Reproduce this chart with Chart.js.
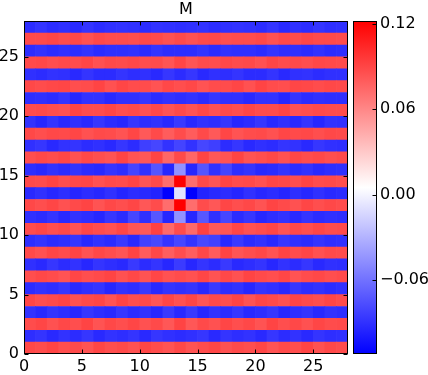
<!DOCTYPE html>
<html>
<head>
<meta charset="utf-8">
<script src="https://cdn.jsdelivr.net/npm/chart.js@4.4.1/dist/chart.umd.min.js"></script>
<style>
  html, body { margin: 0; padding: 0; background: #fff; }
  #wrap { position: relative; width: 428px; height: 375px; }
  #heat { position: absolute; left: 0; top: 0; }
  #cbar { position: absolute; left: 340px; top: 0; }
</style>
</head>
<body>
<div id="wrap">
  <canvas id="heat" width="350" height="375"></canvas>
  <canvas id="cbar" width="88" height="375"></canvas>
</div>
<script>
// columns (x) and rows (y) of the matrix
const cols = [0, 1, 2, 3, 4, 5, 6, 7, 8, 9, 10, 11, 12, 13, 14, 15, 16, 17, 18, 19, 20, 21, 22, 23, 24, 25, 26, 27];
const xTicks = [0, 5, 10, 15, 20, 25];
const yTicks = [0, 5, 10, 15, 20, 25];
const cbarTicks = [-0.06, 0.00, 0.06, 0.12];
const vmin = -0.112;
const vmax = 0.122;

// values of M, one array per row, row 0 at the bottom
const row00 = [0.089, 0.087, 0.091, 0.086, 0.088, 0.084, 0.090, 0.086, 0.088, 0.085, 0.090, 0.087, 0.084, 0.089, 0.084, 0.087, 0.090, 0.085, 0.088, 0.086, 0.090, 0.084, 0.088, 0.086, 0.091, 0.085, 0.089, 0.087];
const row01 = [-0.091, -0.088, -0.093, -0.089, -0.092, -0.087, -0.093, -0.089, -0.091, -0.088, -0.093, -0.087, -0.090, -0.092, -0.090, -0.087, -0.093, -0.088, -0.091, -0.089, -0.093, -0.087, -0.092, -0.089, -0.093, -0.088, -0.091, -0.090];
const row02 = [0.087, 0.090, 0.085, 0.089, 0.086, 0.091, 0.084, 0.089, 0.086, 0.090, 0.085, 0.088, 0.082, 0.091, 0.082, 0.088, 0.085, 0.090, 0.086, 0.089, 0.084, 0.091, 0.086, 0.089, 0.085, 0.090, 0.087, 0.088];
const row03 = [-0.089, -0.093, -0.088, -0.091, -0.094, -0.087, -0.091, -0.093, -0.087, -0.092, -0.089, -0.094, -0.086, -0.093, -0.086, -0.094, -0.089, -0.092, -0.087, -0.093, -0.091, -0.087, -0.094, -0.091, -0.088, -0.093, -0.089, -0.091];
const row04 = [0.090, 0.086, 0.088, 0.091, 0.085, 0.088, 0.090, 0.084, 0.091, 0.086, 0.088, 0.083, 0.090, 0.085, 0.090, 0.083, 0.088, 0.086, 0.091, 0.084, 0.090, 0.088, 0.085, 0.091, 0.088, 0.086, 0.090, 0.087];
const row05 = [-0.092, -0.089, -0.091, -0.087, -0.093, -0.090, -0.088, -0.094, -0.089, -0.091, -0.086, -0.093, -0.088, -0.090, -0.088, -0.093, -0.086, -0.091, -0.089, -0.094, -0.088, -0.090, -0.093, -0.087, -0.091, -0.089, -0.092, -0.090];
const row06 = [0.086, 0.089, 0.087, 0.084, 0.090, 0.086, 0.088, 0.091, 0.085, 0.089, 0.084, 0.090, 0.085, 0.087, 0.085, 0.090, 0.084, 0.089, 0.085, 0.091, 0.088, 0.086, 0.090, 0.084, 0.087, 0.089, 0.086, 0.088];
const row07 = [-0.090, -0.093, -0.087, -0.092, -0.089, -0.094, -0.088, -0.091, -0.093, -0.086, -0.092, -0.088, -0.094, -0.085, -0.094, -0.088, -0.092, -0.086, -0.093, -0.091, -0.088, -0.094, -0.089, -0.092, -0.087, -0.093, -0.090, -0.091];
const row08 = [0.088, 0.085, 0.090, 0.087, 0.091, 0.084, 0.089, 0.086, 0.083, 0.091, 0.080, 0.089, 0.079, 0.086, 0.079, 0.089, 0.080, 0.091, 0.083, 0.086, 0.089, 0.084, 0.091, 0.087, 0.090, 0.085, 0.088, 0.087];
const row09 = [-0.091, -0.088, -0.092, -0.090, -0.087, -0.093, -0.089, -0.092, -0.086, -0.093, -0.082, -0.079, -0.088, -0.080, -0.088, -0.079, -0.082, -0.093, -0.086, -0.092, -0.089, -0.093, -0.087, -0.090, -0.092, -0.088, -0.091, -0.090];
const row10 = [0.087, 0.090, 0.086, 0.089, 0.084, 0.090, 0.087, 0.085, 0.090, 0.083, 0.081, 0.092, 0.074, 0.087, 0.074, 0.092, 0.081, 0.083, 0.090, 0.085, 0.087, 0.090, 0.084, 0.089, 0.086, 0.090, 0.087, 0.088];
const row11 = [-0.090, -0.092, -0.088, -0.093, -0.089, -0.091, -0.094, -0.087, -0.092, -0.080, -0.090, -0.072, -0.094, -0.045, -0.094, -0.072, -0.090, -0.080, -0.092, -0.087, -0.094, -0.091, -0.089, -0.093, -0.088, -0.092, -0.090, -0.091];
const row12 = [0.089, 0.086, 0.090, 0.085, 0.088, 0.091, 0.084, 0.089, 0.086, 0.090, 0.082, 0.087, 0.072, 0.122, 0.072, 0.087, 0.082, 0.090, 0.086, 0.089, 0.084, 0.091, 0.088, 0.085, 0.090, 0.086, 0.089, 0.087];
const row13 = [-0.093, -0.090, -0.094, -0.091, -0.095, -0.092, -0.094, -0.090, -0.095, -0.092, -0.093, -0.096, -0.112, -0.008, -0.112, -0.096, -0.093, -0.092, -0.095, -0.090, -0.094, -0.092, -0.095, -0.091, -0.094, -0.090, -0.093, -0.092];
const row14 = [0.088, 0.087, 0.091, 0.086, 0.089, 0.090, 0.085, 0.088, 0.087, 0.091, 0.083, 0.088, 0.072, 0.122, 0.072, 0.088, 0.083, 0.091, 0.087, 0.088, 0.085, 0.090, 0.089, 0.086, 0.091, 0.087, 0.088, 0.086];
const row15 = [-0.091, -0.093, -0.089, -0.092, -0.088, -0.092, -0.093, -0.088, -0.091, -0.081, -0.089, -0.073, -0.094, -0.045, -0.094, -0.073, -0.089, -0.081, -0.091, -0.088, -0.093, -0.092, -0.088, -0.092, -0.089, -0.093, -0.091, -0.090];
const row16 = [0.086, 0.089, 0.087, 0.090, 0.085, 0.089, 0.086, 0.084, 0.091, 0.084, 0.082, 0.091, 0.075, 0.088, 0.075, 0.091, 0.082, 0.084, 0.091, 0.084, 0.086, 0.089, 0.085, 0.090, 0.087, 0.089, 0.086, 0.088];
const row17 = [-0.090, -0.087, -0.093, -0.089, -0.088, -0.092, -0.090, -0.093, -0.087, -0.092, -0.083, -0.080, -0.089, -0.081, -0.089, -0.080, -0.083, -0.092, -0.087, -0.093, -0.090, -0.092, -0.088, -0.089, -0.093, -0.087, -0.090, -0.091];
const row18 = [0.089, 0.086, 0.089, 0.088, 0.090, 0.085, 0.088, 0.087, 0.084, 0.090, 0.081, 0.088, 0.080, 0.087, 0.080, 0.088, 0.081, 0.090, 0.084, 0.087, 0.088, 0.085, 0.090, 0.088, 0.089, 0.086, 0.089, 0.088];
const row19 = [-0.089, -0.094, -0.088, -0.093, -0.090, -0.093, -0.087, -0.092, -0.094, -0.087, -0.091, -0.089, -0.093, -0.086, -0.093, -0.089, -0.091, -0.087, -0.094, -0.092, -0.087, -0.093, -0.090, -0.093, -0.088, -0.094, -0.089, -0.090];
const row20 = [0.087, 0.088, 0.086, 0.085, 0.091, 0.087, 0.087, 0.090, 0.086, 0.088, 0.085, 0.089, 0.084, 0.088, 0.084, 0.089, 0.085, 0.088, 0.086, 0.090, 0.087, 0.087, 0.091, 0.085, 0.086, 0.088, 0.087, 0.087];
const row21 = [-0.091, -0.090, -0.092, -0.088, -0.094, -0.089, -0.089, -0.093, -0.090, -0.090, -0.087, -0.092, -0.089, -0.091, -0.089, -0.092, -0.087, -0.090, -0.090, -0.093, -0.089, -0.089, -0.094, -0.088, -0.092, -0.090, -0.091, -0.091];
const row22 = [0.089, 0.087, 0.089, 0.090, 0.086, 0.087, 0.091, 0.085, 0.090, 0.087, 0.087, 0.084, 0.089, 0.086, 0.089, 0.084, 0.087, 0.087, 0.090, 0.085, 0.091, 0.087, 0.086, 0.090, 0.089, 0.087, 0.089, 0.088];
const row23 = [-0.090, -0.092, -0.089, -0.090, -0.093, -0.088, -0.092, -0.092, -0.088, -0.091, -0.090, -0.093, -0.087, -0.092, -0.087, -0.093, -0.090, -0.091, -0.088, -0.092, -0.092, -0.088, -0.093, -0.090, -0.089, -0.092, -0.090, -0.090];
const row24 = [0.088, 0.089, 0.086, 0.088, 0.087, 0.090, 0.085, 0.088, 0.087, 0.089, 0.086, 0.087, 0.083, 0.090, 0.083, 0.087, 0.086, 0.089, 0.087, 0.088, 0.085, 0.090, 0.087, 0.088, 0.086, 0.089, 0.088, 0.087];
const row25 = [-0.092, -0.089, -0.092, -0.090, -0.091, -0.088, -0.092, -0.090, -0.090, -0.089, -0.092, -0.088, -0.091, -0.091, -0.091, -0.088, -0.092, -0.089, -0.090, -0.090, -0.092, -0.088, -0.091, -0.090, -0.092, -0.089, -0.092, -0.091];
const row26 = [0.088, 0.088, 0.090, 0.087, 0.089, 0.085, 0.089, 0.087, 0.087, 0.086, 0.089, 0.088, 0.085, 0.088, 0.085, 0.088, 0.089, 0.086, 0.087, 0.087, 0.089, 0.085, 0.089, 0.087, 0.090, 0.088, 0.088, 0.087];
const row27 = [-0.092, -0.088, -0.092, -0.090, -0.093, -0.088, -0.092, -0.090, -0.089, -0.090, -0.092, -0.089, -0.090, -0.091, -0.090, -0.089, -0.092, -0.090, -0.089, -0.090, -0.092, -0.088, -0.093, -0.090, -0.092, -0.088, -0.091, -0.090];

const rows = [row00, row01, row02, row03, row04, row05, row06, row07, row08, row09,
              row10, row11, row12, row13, row14, row15, row16, row17, row18, row19,
              row20, row21, row22, row23, row24, row25, row26, row27];

const FONT = { family: "'DejaVu Sans', sans-serif", size: 16 };

// bwr colour map: blue -> white -> red, linear in rgb
function bwr(v) {
  let t = (v - vmin) / (vmax - vmin);
  t = Math.max(0, Math.min(1, t));
  let r, g, b;
  if (t < 0.5) {
    r = g = Math.round(510 * t);
    b = 255;
  } else {
    r = 255;
    g = b = Math.round(510 * (1 - t));
  }
  return `rgb(${r},${g},${b})`;
}

// black frame with small inward ticks, like the matplotlib axes
function makeFrame(sides) {
  return {
    id: 'frame',
    afterDatasetsDraw(chart) {
      const { ctx, chartArea: a } = chart;
      const L = Math.round(a.left) + 0.5, R = Math.round(a.right) - 0.5;
      const T = Math.round(a.top) + 0.5, B = Math.round(a.bottom) - 0.5;
      ctx.save();
      ctx.strokeStyle = '#000';
      ctx.lineWidth = 1;
      ctx.strokeRect(L, T, R - L, B - T);
      ctx.beginPath();
      if (sides.x) {
        sides.x.forEach(v => {
          const px = Math.round(chart.scales.x.getPixelForValue(v)) + 0.5;
          ctx.moveTo(px, B); ctx.lineTo(px, B - 4);
          ctx.moveTo(px, T); ctx.lineTo(px, T + 4);
        });
      }
      if (sides.y) {
        sides.y.forEach(v => {
          const py = Math.round(chart.scales.y.getPixelForValue(v)) + 0.5;
          if (!sides.rightOnly) { ctx.moveTo(L, py); ctx.lineTo(L + 4, py); }
          ctx.moveTo(R, py); ctx.lineTo(R - 4, py);
        });
      }
      ctx.stroke();
      ctx.restore();
    }
  };
}

// one floating-bar dataset per matrix row
const heatSets = rows.map((row, j) => ({
  data: row.map((v, i) => ({ x: cols[i] + 0.5, y: [j, j + 1] })),
  backgroundColor: row.map(v => bwr(v)),
  borderWidth: 0,
  grouped: false,
  barPercentage: 1,
  categoryPercentage: 1
}));

new Chart(document.getElementById('heat'), {
  type: 'bar',
  data: { datasets: heatSets },
  options: {
    responsive: false,
    animation: false,
    layout: { padding: { left: 0, right: 2, top: 0, bottom: 0 } },
    plugins: {
      legend: { display: false },
      tooltip: { enabled: false },
      title: {
        display: true,
        text: 'M',
        fullSize: false,
        color: '#000',
        font: { family: FONT.family, size: 16, weight: 'normal' },
        padding: { top: 0, bottom: 2 }
      }
    },
    scales: {
      x: {
        type: 'linear',
        min: 0,
        max: 28,
        offset: false,
        grid: { display: false, drawTicks: false },
        border: { display: false },
        afterBuildTicks: s => { s.ticks = xTicks.map(v => ({ value: v })); },
        afterFit: s => { s.height = 21; },
        ticks: { color: '#000', font: FONT, padding: 3, maxRotation: 0, autoSkip: false }
      },
      y: {
        type: 'linear',
        min: 0,
        max: 28,
        grid: { display: false, drawTicks: false },
        border: { display: false },
        afterBuildTicks: s => { s.ticks = yTicks.map(v => ({ value: v })); },
        afterFit: s => { s.width = 24; },
        ticks: { color: '#000', font: FONT, padding: 5, autoSkip: false }
      }
    }
  },
  plugins: [makeFrame({ x: xTicks, y: yTicks })]
});

// colour bar: a single floating bar filled with the colour map
new Chart(document.getElementById('cbar'), {
  type: 'bar',
  data: {
    labels: [''],
    datasets: [{
      data: [[vmin, vmax]],
      backgroundColor: c => {
        const chart = c.chart;
        if (!chart.chartArea) return 'rgba(0,0,0,0)';
        const y = chart.scales.y;
        const g = chart.ctx.createLinearGradient(0, y.getPixelForValue(vmin), 0, y.getPixelForValue(vmax));
        g.addColorStop(0, bwr(vmin));
        g.addColorStop(0.5, 'rgb(255,255,255)');
        g.addColorStop(1, bwr(vmax));
        return g;
      },
      borderWidth: 0,
      barPercentage: 1,
      categoryPercentage: 1
    }]
  },
  options: {
    responsive: false,
    animation: false,
    layout: { padding: { left: 13, right: 0, top: 21, bottom: 21 } },
    plugins: { legend: { display: false }, tooltip: { enabled: false } },
    scales: {
      x: { display: false },
      y: {
        position: 'right',
        min: vmin,
        max: vmax,
        grid: { display: false, drawTicks: false },
        border: { display: false },
        afterBuildTicks: s => { s.ticks = cbarTicks.map(v => ({ value: v })); },
        afterFit: s => { s.width = 51; },
        ticks: {
          color: '#000',
          font: FONT,
          padding: 3,
          callback: v => (v < 0 ? '\u2212' : '') + Math.abs(v).toFixed(2)
        }
      }
    }
  },
  plugins: [makeFrame({ y: cbarTicks, rightOnly: true })]
});
</script>
</body>
</html>
